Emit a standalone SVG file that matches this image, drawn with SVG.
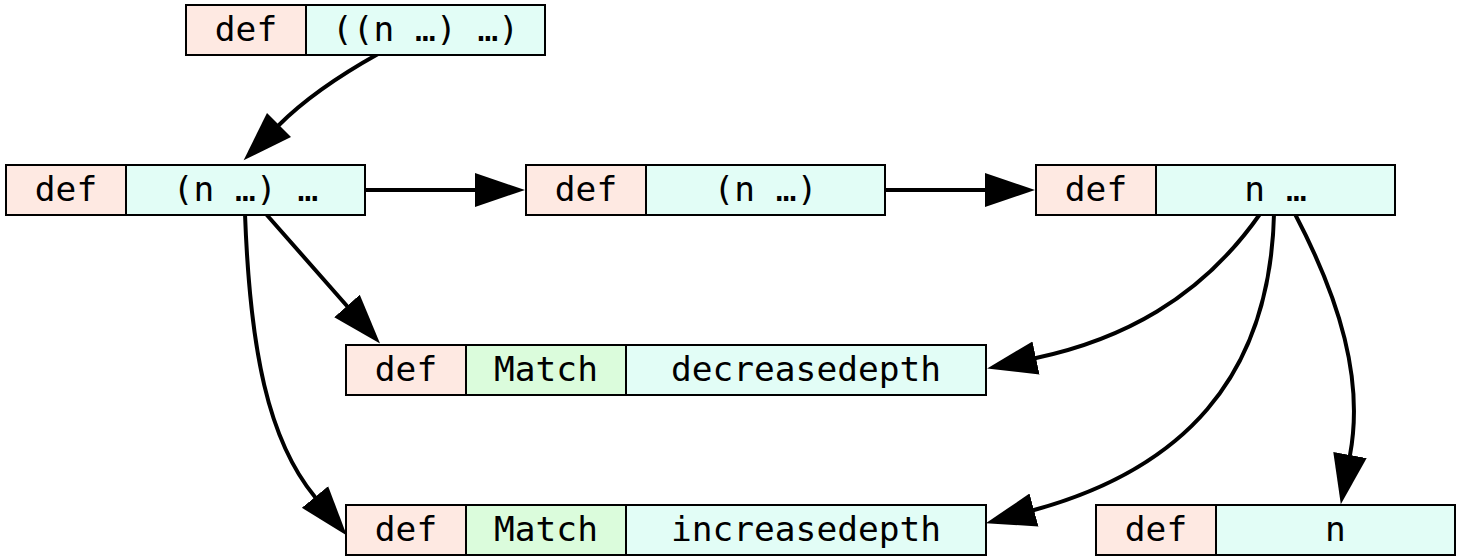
<svg xmlns="http://www.w3.org/2000/svg" width="1460" height="560" viewBox="0 0 1460 560">
<style>
.def{fill:#fee9e2;stroke:#000;stroke-width:2}
.val{fill:#e2fdf6;stroke:#000;stroke-width:2}
.mat{fill:#dbfcdc;stroke:#000;stroke-width:2}
text{font-family:"DejaVu Sans Mono",monospace;font-size:34.5px;text-anchor:middle;fill:#000}
.edge{fill:none;stroke:#000;stroke-width:4;stroke-linecap:round}
</style>
<defs>
<marker id="ah" markerUnits="userSpaceOnUse" markerWidth="60" markerHeight="40" viewBox="0 -20 60 40" refX="0" refY="0" orient="auto">
<path d="M0,-17 L50,0 L0,17 Z" fill="#000"/>
</marker>
</defs>
<g id="connectors">
<path class="edge" d="M378,54 C335,78 302,102 279,125" marker-end="url(#ah)"/>
<path class="edge" d="M365,190 L475,190" marker-end="url(#ah)"/>
<path class="edge" d="M885,190 L985,190" marker-end="url(#ah)"/>
<path class="edge" d="M266,214 L347,306" marker-end="url(#ah)"/>
<path class="edge" d="M245,214 C250,350 268,440 315,497" marker-end="url(#ah)"/>
<path class="edge" d="M1260,214 C1200,300 1120,340 1036,358" marker-end="url(#ah)"/>
<path class="edge" d="M1274,214 C1270,380 1180,470 1034,510" marker-end="url(#ah)"/>
<path class="edge" d="M1295,214 C1340,300 1364,380 1350,455" marker-end="url(#ah)"/>
</g>
<g id="nA">
<rect class="def" x="186" y="5" width="120" height="50"/>
<rect class="val" x="306" y="5" width="239" height="50"/>
<text x="246" y="41">def</text>
<text x="425.5" y="41">((n …) …)</text>
</g>
<g id="nB">
<rect class="def" x="6" y="165" width="120" height="50"/>
<rect class="val" x="126" y="165" width="239" height="50"/>
<text x="66" y="201">def</text>
<text x="245.5" y="201">(n …) …</text>
</g>
<g id="nC">
<rect class="def" x="526" y="165" width="120" height="50"/>
<rect class="val" x="646" y="165" width="239" height="50"/>
<text x="586" y="201">def</text>
<text x="765.5" y="201">(n …)</text>
</g>
<g id="nD">
<rect class="def" x="1036" y="165" width="120" height="50"/>
<rect class="val" x="1156" y="165" width="239" height="50"/>
<text x="1096" y="201">def</text>
<text x="1275.5" y="201">n …</text>
</g>
<g id="nE">
<rect class="def" x="346" y="345" width="120" height="50"/>
<rect class="mat" x="466" y="345" width="160" height="50"/>
<rect class="val" x="626" y="345" width="360" height="50"/>
<text x="406" y="381">def</text>
<text x="546" y="381">Match</text>
<text x="806" y="381">decreasedepth</text>
</g>
<g id="nF">
<rect class="def" x="346" y="505" width="120" height="50"/>
<rect class="mat" x="466" y="505" width="160" height="50"/>
<rect class="val" x="626" y="505" width="360" height="50"/>
<text x="406" y="541">def</text>
<text x="546" y="541">Match</text>
<text x="806" y="541">increasedepth</text>
</g>
<g id="nG">
<rect class="def" x="1096" y="505" width="120" height="50"/>
<rect class="val" x="1216" y="505" width="239" height="50"/>
<text x="1156" y="541">def</text>
<text x="1335.5" y="541">n</text>
</g>
</svg>
